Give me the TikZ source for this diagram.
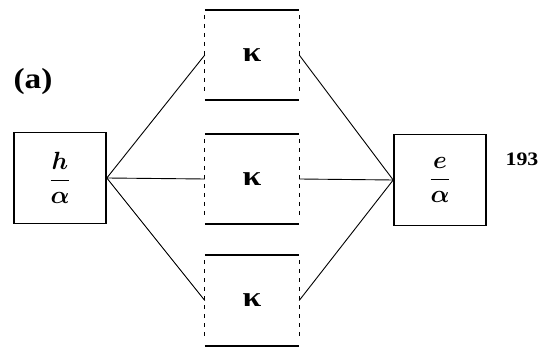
\documentclass[tikz,border=0pt]{standalone}
\usepackage{fontspec}
\setmainfont{Liberation Serif}
\usepackage{bm}
\begin{document}
\begin{tikzpicture}[x=1pt,y=-1pt,
  box/.style={draw, line width=1.6pt, minimum width=92pt, minimum height=91pt, inner sep=0pt},
  kbox/.style={minimum width=94pt, minimum height=90pt, inner sep=0pt,
    font=\fontsize{28}{28}\selectfont\bfseries},
  rule/.style={line width=1.7pt},
  side/.style={line width=1.2pt, dash pattern=on 4pt off 5pt},
  conn/.style={line width=0.9pt},
  lbl/.style={inner sep=0pt}]
\useasboundingbox (0,0) rectangle (547,352);
\node[box] (L) at (60,178) {\fontsize{25}{25}\selectfont$\displaystyle\frac{\bm{h}}{\bm{\alpha}}$};
\node[box] (R) at (440,180) {\fontsize{25}{25}\selectfont$\displaystyle\frac{\bm{e}}{\bm{\alpha}}$};
\node[kbox] (K1) at (252,55) {\scalebox{1.2}[1]{κ}};
\node[kbox] (K2) at (252,179) {\scalebox{1.2}[1]{κ}};
\node[kbox] (K3) at (252,300.5) {\scalebox{1.2}[1]{κ}};
\foreach \k in {K1,K2,K3}{
  \draw[rule] (\k.north west) -- (\k.north east);
  \draw[rule] (\k.south west) -- (\k.south east);
  \draw[side] ([yshift=-5pt]\k.north west) -- ([yshift=5pt]\k.south west);
  \draw[side] ([yshift=-5pt]\k.north east) -- ([yshift=5pt]\k.south east);
}
\draw[conn] (L.east) -- (K1.west);
\draw[conn] (L.east) -- (K2.west);
\draw[conn] (L.east) -- (K3.west);
\draw[conn] (K1.east) -- (R.west);
\draw[conn] (K2.east) -- (R.west);
\draw[conn] (K3.east) -- (R.west);
\node[lbl] (lab) at (33,82) {\fontsize{29}{29}\selectfont\bfseries\scalebox{1.15}[1]{(a)}};
\node[lbl] (num) at (522,159) {\fontsize{19}{19}\selectfont\bfseries\scalebox{1.15}[1]{193}};
\end{tikzpicture}
\end{document}
